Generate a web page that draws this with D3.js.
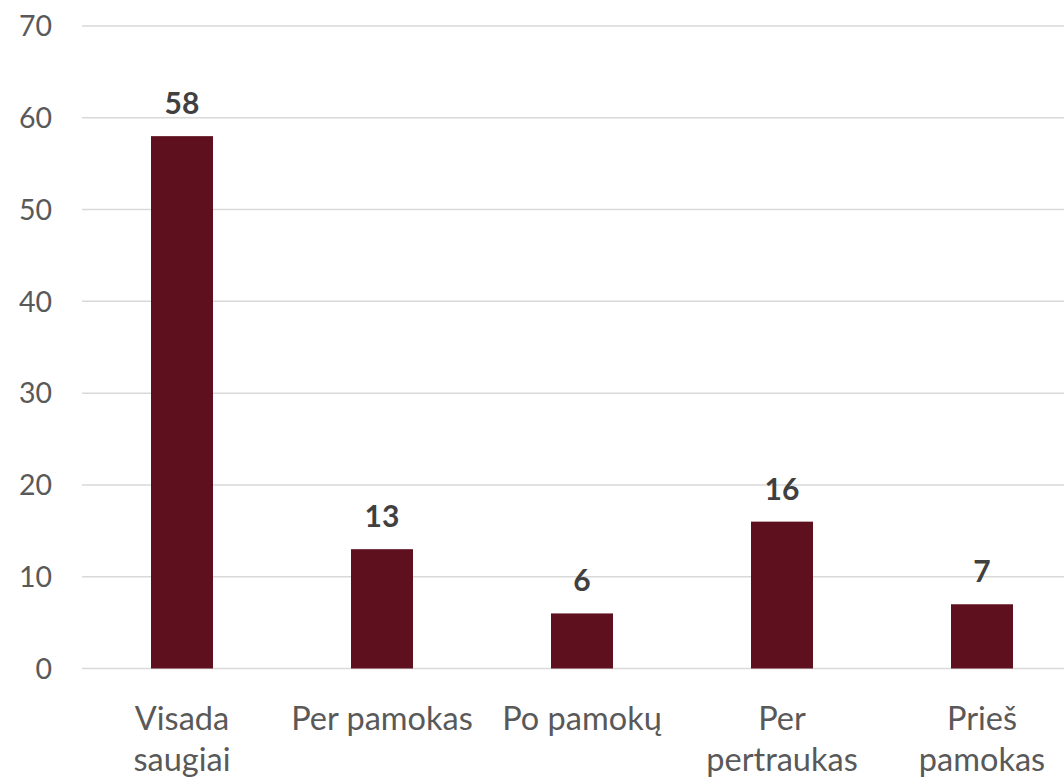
<!DOCTYPE html>
<html>
<head>
<meta charset="utf-8">
<script src="https://cdn.jsdelivr.net/npm/d3@7"></script>
<style>
  body { margin: 0; background: #fff; }
  svg { display: block; font-family: Lato, "Open Sans", sans-serif; }
</style>
</head>
<body>
<div id="chart"></div>
<script>
// Values.
const categories = ["Visada saugiai", "Per pamokas", "Po pamokų", "Per pertraukas", "Prieš pamokas"];
const categoryLines = [["Visada", "saugiai"], ["Per pamokas"], ["Po pamokų"], ["Per", "pertraukas"], ["Prieš", "pamokas"]];
const values = [58, 13, 6, 16, 7];
const yTicks = [0, 10, 20, 30, 40, 50, 60, 70];

const width = 1064;
const height = 781;

const svg = d3
  .select("#chart")
  .append("svg")
  .attr("width", width)
  .attr("height", height);

const x = d3
  .scaleBand()
  .domain(categories)
  .range([82, 1082])
  .paddingInner(0.69)
  .paddingOuter(0.345);

const y = d3.scaleLinear().domain([0, 70]).range([668.5, 26]);

// Horizontal gridlines
svg
  .selectAll("line.grid")
  .data(yTicks)
  .enter()
  .append("line")
  .attr("class", "grid")
  .attr("x1", 82)
  .attr("x2", width)
  .attr("y1", (d) => y(d))
  .attr("y2", (d) => y(d))
  .attr("stroke", "#d9d9d9")
  .attr("stroke-width", 1.5);

// Y tick labels
svg
  .selectAll("text.ytick")
  .data(yTicks)
  .enter()
  .append("text")
  .attr("class", "ytick")
  .attr("x", 52)
  .attr("y", (d) => y(d))
  .attr("dy", "0.36em")
  .attr("text-anchor", "end")
  .attr("fill", "#595959")
  .attr("font-size", "28.5px")
  .text((d) => d);

// Bars
svg
  .selectAll("rect.bar")
  .data(values)
  .enter()
  .append("rect")
  .attr("class", "bar")
  .attr("x", (d, i) => x(categories[i]))
  .attr("y", (d) => y(d))
  .attr("width", x.bandwidth())
  .attr("height", (d) => y(0) - y(d))
  .attr("fill", "#5e101f");

// Value labels above the bars
svg
  .selectAll("text.value")
  .data(values)
  .enter()
  .append("text")
  .attr("class", "value")
  .attr("x", (d, i) => x(categories[i]) + x.bandwidth() / 2)
  .attr("y", (d) => y(d) - 22)
  .attr("text-anchor", "middle")
  .attr("fill", "#404040")
  .attr("font-size", "30px")
  .attr("font-weight", 700)
  .text((d) => d);

// Category labels, wrapped like the original
const catLabels = svg
  .selectAll("text.cat")
  .data(categoryLines)
  .enter()
  .append("text")
  .attr("class", "cat")
  .attr("x", (d, i) => x(categories[i]) + x.bandwidth() / 2)
  .attr("y", 730)
  .attr("text-anchor", "middle")
  .attr("fill", "#595959")
  .attr("font-size", "32.5px");

catLabels
  .selectAll("tspan")
  .data((d) => d)
  .enter()
  .append("tspan")
  .attr("x", function () {
    return d3.select(this.parentNode).attr("x");
  })
  .attr("dy", (d, i) => (i === 0 ? 0 : 41))
  .text((d) => d);
</script>
</body>
</html>
